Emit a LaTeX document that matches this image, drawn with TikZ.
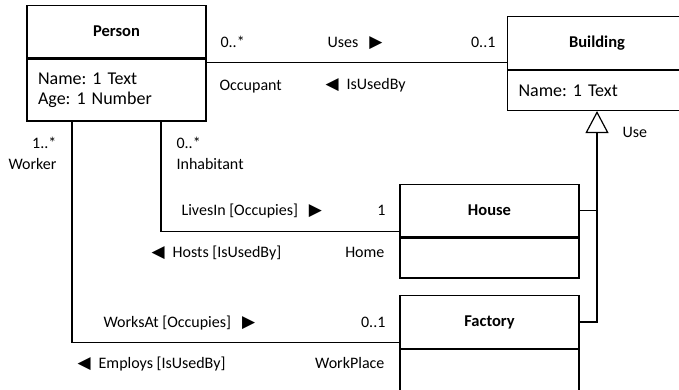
\documentclass[tikz,border=0pt]{standalone}
\usepackage{fontspec}
\setmainfont{Carlito}
\newfontfamily\symfont{DejaVu Sans}
\usetikzlibrary{arrows.meta,positioning}
\frenchspacing
% reading direction markers
\newcommand{\fwd}{\hspace{11pt}{\symfont\fontsize{17}{19}\selectfont ▶}}
\newcommand{\bwd}{{\symfont\fontsize{17}{19}\selectfont ◀}\hspace{8pt}}

\begin{document}
\begin{tikzpicture}[
  x=1pt, y=-1pt,
  line width=1.2pt,
  ttl/.style={rectangle, draw, minimum width=179pt, minimum height=52.5pt,
              font=\fontsize{16.5}{19}\selectfont\bfseries},
  attr/.style={rectangle, draw, minimum width=179pt, text width=157pt, inner xsep=11pt,
               align=left, font=\fontsize{18}{20}\selectfont},
  lbl/.style={inner sep=0pt, font=\fontsize{16}{19}\selectfont},
  gen/.style={-{Triangle[open, length=22pt, width=23pt]}},
]
\useasboundingbox (0,0) rectangle (679,390);
\clip (0,0) rectangle (679,390);

% classes
\node[ttl] (pttl) at (116.5,31.5) {Person};
\node[attr, below=0pt of pttl, minimum height=62pt] (pattr) {Name: 1 Text\\Age: 1 Number};

\node[ttl] (bttl) at (597,43) {Building};
\node[attr, below=0pt of bttl, minimum height=40pt] (battr) {Name: 1 Text};

\node[ttl] (httl) at (489.5,210.5) {House};
\node[attr, below=0pt of httl, minimum height=40pt] (hattr) {};

\node[ttl] (fttl) at (489.5,322) {Factory};
\node[attr, below=0pt of fttl, minimum height=41pt] (fattr) {};

% generalisation
\draw[gen] (fttl.east) -| (battr.south);
\draw (httl.east) -- (httl.east -| battr.south);
\node[lbl, anchor=base west] (use) at (622,137.5) {Use};

% Person -- Building
\coordinate (usesL) at ([yshift=-4pt]pattr.north east);
\draw (usesL) -- (usesL -| bttl.west);
\node[lbl, anchor=base west] (occm) at (220,47.5) {0..*};
\node[lbl, anchor=base west] (uses) at (327,47.5) {Uses\fwd};
\node[lbl, anchor=base east] (bldm) at (496,47.5) {0..1};
\node[lbl, anchor=base west] (occ) at (219,90.5) {Occupant};
\node[lbl, anchor=base west] (usedby) at (325,89.5) {\bwd IsUsedBy};

% Person -- House
\draw ([xshift=44.5pt]pattr.south) |- ([yshift=6pt]httl.south west);
\node[lbl, anchor=base west] (inhm) at (176,148.5) {0..*};
\node[lbl, anchor=base west] (inh) at (176,169.5) {Inhabitant};
\node[lbl, anchor=base west] (lives) at (181,215.5) {LivesIn [Occupies]\fwd};
\node[lbl, anchor=base east] (homem) at (386,215.5) {1};
\node[lbl, anchor=base west] (hosts) at (151,257.5) {\bwd Hosts [IsUsedBy]};
\node[lbl, anchor=base east] (home) at (385,257.5) {Home};

% Person -- Factory
\draw ([xshift=-44.5pt]pattr.south) |- ([yshift=6pt]fttl.south west);
\node[lbl, anchor=base east] (wrkm) at (57,148.5) {1..*};
\node[lbl, anchor=base east] (wrk) at (57,169.5) {Worker};
\node[lbl, anchor=base west] (works) at (103,327.5) {WorksAt [Occupies]\fwd};
\node[lbl, anchor=base east] (wpm) at (386,327.5) {0..1};
\node[lbl, anchor=base west] (employs) at (77,368.5) {\bwd Employs [IsUsedBy]};
\node[lbl, anchor=base east] (wp) at (385,368.5) {WorkPlace};

\end{tikzpicture}
\end{document}
